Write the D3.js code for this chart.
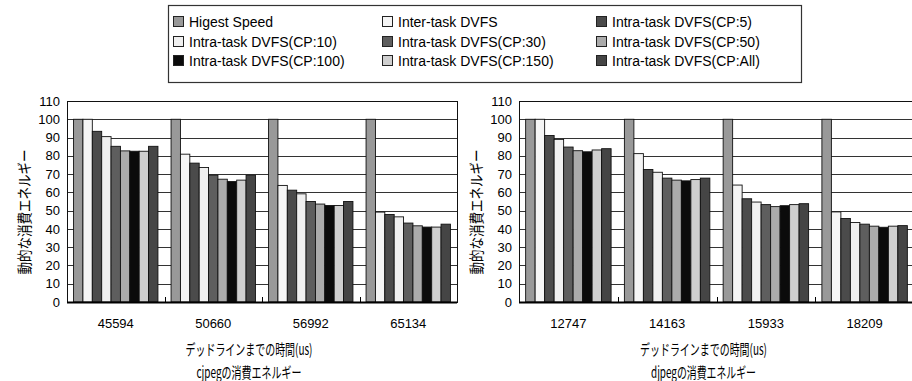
<!DOCTYPE html>
<html>
<head>
<meta charset="utf-8">
<script src="https://cdn.jsdelivr.net/npm/d3@7"></script>
<style>
  body { margin: 0; background: #fff; }
  text { font-family: "Liberation Sans", Arial, sans-serif; fill: #000; }
  .jp { font-family: "Noto Sans CJK JP", sans-serif; }
</style>
</head>
<body>
<svg id="chart" width="912" height="381"></svg>
<script>
// series names, in legend order
var seriesNames = ["Higest Speed", "Inter-task DVFS", "Intra-task DVFS(CP:5)",
  "Intra-task DVFS(CP:10)", "Intra-task DVFS(CP:30)", "Intra-task DVFS(CP:50)",
  "Intra-task DVFS(CP:100)", "Intra-task DVFS(CP:150)", "Intra-task DVFS(CP:All)"];

var yTicks = [0, 10, 20, 30, 40, 50, 60, 70, 80, 90, 100, 110];

// cjpeg
var cjpegDeadlines = ["45594", "50660", "56992", "65134"];
var cjpegEnergy = [
  [100, 100, 93.4, 90.5, 85.2, 82.7, 82.5, 82.5, 85.2],
  [100, 80.9, 76.0, 73.6, 69.4, 67.2, 65.9, 66.7, 69.4],
  [100, 63.8, 61.2, 59.2, 55.0, 53.6, 52.8, 52.8, 55.0],
  [100, 49.2, 47.9, 46.6, 43.2, 41.7, 41.0, 41.0, 42.6]
];

// djpeg
var djpegDeadlines = ["12747", "14163", "15933", "18209"];
var djpegEnergy = [
  [100, 100, 91.1, 89.0, 84.8, 82.8, 82.2, 83.2, 83.9],
  [100, 81.2, 72.5, 71.0, 67.8, 66.7, 66.3, 67.0, 67.8],
  [100, 64.0, 56.5, 54.7, 53.3, 52.2, 52.7, 53.3, 53.8],
  [100, 49.3, 45.7, 43.5, 42.6, 41.5, 40.9, 41.5, 41.8]
];

var fills = ["#999999", "#f5f5f5", "#4b4b4b", "#f0f0f0", "#5e5e5e", "#ababab", "#0b0b0b", "#cfcfcf", "#454545"];

var svg = d3.select("#chart");

// legend
var legend = svg.append("g");
legend.append("rect")
  .attr("x", 168.5).attr("y", 5.5).attr("width", 633).attr("height", 77)
  .attr("fill", "#fff").attr("stroke", "#333").attr("stroke-width", 1.2);

var colX = [173, 382, 596], rowY = [22, 42, 61];
seriesNames.forEach(function(name, i) {
  var cx = colX[i % 3], cy = rowY[Math.floor(i / 3)];
  legend.append("rect")
    .attr("x", cx + 0.5).attr("y", cy - 5.5).attr("width", 10).attr("height", 10)
    .attr("fill", fills[i]).attr("stroke", "#222");
  legend.append("text")
    .attr("x", cx + 16).attr("y", cy + 5)
    .style("font-size", "14px")
    .text(name);
});

function drawChart(x0, x1, deadlines, energy, subtitle) {
  var yTop = 101, yBottom = 302;
  var g = svg.append("g");

  var groupScale = d3.scaleBand()
    .domain(deadlines)
    .range([x0, x1])
    .padding(0);

  var barScale = d3.scaleBand()
    .domain(d3.range(seriesNames.length))
    .range([0, groupScale.bandwidth()])
    .paddingInner(0)
    .paddingOuter(0.7);

  var yScale = d3.scaleLinear()
    .domain([0, 110])
    .range([yBottom, yTop]);

  // gridlines
  g.append("g").selectAll("line")
    .data(yTicks.filter(function(t) { return t > 0 && t < 110; }))
    .enter().append("line")
    .attr("x1", x0).attr("x2", x1)
    .attr("y1", function(d) { return Math.round(yScale(d)) + 0.5; })
    .attr("y2", function(d) { return Math.round(yScale(d)) + 0.5; })
    .attr("stroke", "#333").attr("stroke-width", 1);

  // bars
  g.append("g").selectAll("g")
    .data(energy)
    .enter().append("g")
    .attr("transform", function(d, i) { return "translate(" + groupScale(deadlines[i]) + ",0)"; })
    .selectAll("rect")
    .data(function(d) { return d; })
    .enter().append("rect")
    .attr("x", function(d, j) { return barScale(j); })
    .attr("y", function(d) { return yScale(d); })
    .attr("width", barScale.bandwidth())
    .attr("height", function(d) { return yBottom - yScale(d); })
    .attr("fill", function(d, j) { return fills[j]; })
    .attr("stroke", "#111").attr("stroke-width", 0.9);

  // frame
  g.append("rect")
    .attr("x", x0 + 0.5).attr("y", yScale(110) + 0.5)
    .attr("width", x1 - x0).attr("height", yBottom - yScale(110))
    .attr("fill", "none").attr("stroke", "#111").attr("stroke-width", 1);

  // baseline
  g.append("line")
    .attr("x1", x0).attr("x2", x1)
    .attr("y1", yBottom + 0.5).attr("y2", yBottom + 0.5)
    .attr("stroke", "#000").attr("stroke-width", 2);

  // category separators
  g.append("g").selectAll("line")
    .data(deadlines.slice(1))
    .enter().append("line")
    .attr("x1", function(d) { return Math.round(groupScale(d)) + 0.5; })
    .attr("x2", function(d) { return Math.round(groupScale(d)) + 0.5; })
    .attr("y1", yBottom).attr("y2", yBottom - 5)
    .attr("stroke", "#000");

  // y axis labels
  var yAxis = d3.axisLeft(yScale).tickValues(yTicks).tickSize(0).tickPadding(7);
  var ya = g.append("g")
    .attr("transform", "translate(" + x0 + ",0)")
    .call(yAxis);
  ya.select(".domain").remove();
  ya.selectAll("text").style("font-size", "13px").style("font-family", "Liberation Sans, Arial, sans-serif");

  // x axis labels
  var xAxis = d3.axisBottom(groupScale).tickSize(0).tickPadding(17);
  var xa = g.append("g")
    .attr("transform", "translate(0," + yBottom + ")")
    .call(xAxis);
  xa.select(".domain").remove();
  xa.selectAll("text").style("font-size", "13px").style("font-family", "Liberation Sans, Arial, sans-serif");

  var mid = (x0 + x1) / 2 - 13;
  g.append("text").attr("class", "jp")
    .attr("x", mid).attr("y", 355)
    .attr("text-anchor", "middle")
    .style("font-size", "15px")
    .attr("textLength", 127).attr("lengthAdjust", "spacingAndGlyphs")
    .text("デッドラインまでの時間(us)");

  g.append("text").attr("class", "jp")
    .attr("x", mid).attr("y", 378)
    .attr("text-anchor", "middle")
    .style("font-size", "15px")
    .attr("textLength", 105).attr("lengthAdjust", "spacingAndGlyphs")
    .text(subtitle);

  g.append("text").attr("class", "jp")
    .attr("transform", "translate(" + (x0 - 37) + ",212) rotate(-90)")
    .attr("text-anchor", "middle")
    .style("font-size", "15px")
    .attr("textLength", 125).attr("lengthAdjust", "spacingAndGlyphs")
    .text("動的な消費エネルギー");
}

drawChart(67, 457, cjpegDeadlines, cjpegEnergy, "cjpegの消費エネルギー");
drawChart(519, 914, djpegDeadlines, djpegEnergy, "djpegの消費エネルギー");
</script>
</body>
</html>
